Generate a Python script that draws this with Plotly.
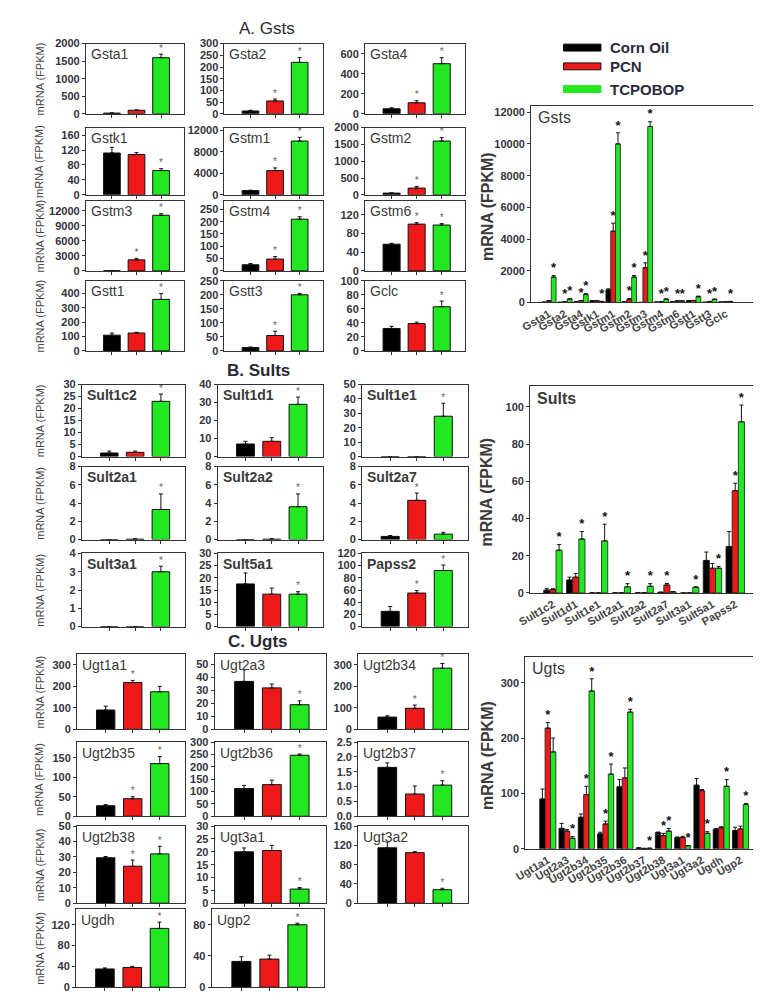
import numpy as np
import plotly.graph_objects as go

# ---------------- DATA ----------------
treatments = ["Corn Oil", "PCN", "TCPOBOP"]

gst_genes = ["Gsta1", "Gsta2", "Gsta4", "Gstk1", "Gstm1", "Gstm2",
             "Gstm3", "Gstm4", "Gstm6", "Gstt1", "Gstt3", "Gclc"]
gst_corn = [20, 12, 50, 112, 800, 50, 5, 25, 57, 110, 12, 32]
gst_pcn = [100, 55, 110, 108, 4500, 200, 2200, 48, 100, 125, 55, 39]
gst_tcp = [1600, 220, 500, 65, 10000, 1600, 11100, 210, 98, 360, 200, 63]
gst_corn_err = [5, 3, 10, 15, 60, 10, 2, 5, 2, 15, 2, 3]
gst_pcn_err = [10, 8, 20, 5, 500, 50, 300, 10, 3, 5, 15, 2]
gst_tcp_err = [100, 20, 60, 5, 700, 100, 300, 10, 3, 40, 5, 8]
gst_pcn_sig = [0, 1, 1, 0, 1, 1, 1, 1, 1, 0, 1, 0]
gst_tcp_sig = [1, 1, 1, 1, 1, 1, 1, 1, 1, 1, 1, 1]

sult_genes = ["Sult1c2", "Sult1d1", "Sult1e1", "Sult2a1", "Sult2a2",
              "Sult2a7", "Sult3a1", "Sult5a1", "Papss2"]
sult_corn = [1.5, 7.0, 0, 0, 0, 0.35, 0, 17.5, 25]
sult_pcn = [1.8, 8.5, 0, 0.05, 0.05, 4.3, 0, 13.3, 55]
sult_tcp = [23, 29, 28, 3.3, 3.6, 0.6, 3.0, 13.3, 92]
sult_corn_err = [0.8, 1.5, 0, 0, 0, 0.1, 0, 4.5, 8]
sult_pcn_err = [0.5, 2, 0, 0.05, 0.05, 0.8, 0, 2.5, 4]
sult_tcp_err = [3, 4, 9, 1.7, 1.4, 0.2, 0.3, 1, 9]
sult_pcn_sig = [0, 0, 0, 0, 0, 1, 0, 0, 1]
sult_tcp_sig = [1, 1, 1, 1, 1, 0, 1, 1, 1]

ugt_genes = ["Ugt1a1", "Ugt2a3", "Ugt2b34", "Ugt2b35", "Ugt2b36", "Ugt2b37",
             "Ugt2b38", "Ugt3a1", "Ugt3a2", "Ugdh", "Ugp2"]
ugt_corn = [90, 37, 57, 27, 112, 1.65, 29.5, 20, 115, 35, 33]
ugt_pcn = [218, 32, 98, 45, 128, 0.75, 24, 20.5, 105, 38, 36]
ugt_tcp = [175, 19, 285, 135, 247, 1.05, 32, 5.5, 28, 113, 80]
ugt_corn_err = [18, 9, 6, 3, 13, 0.15, 0.8, 1.5, 12, 2, 6]
ugt_pcn_err = [10, 3, 15, 5, 18, 0.27, 4, 2, 2, 2, 5]
ugt_tcp_err = [25, 3, 22, 18, 5, 0.15, 5, 0.6, 3, 12, 2]
ugt_pcn_sig = [1, 0, 1, 1, 0, 0, 1, 0, 0, 0, 0]
ugt_tcp_sig = [0, 1, 1, 1, 1, 1, 1, 1, 1, 1, 1]

# axis scales for small panels (ymax, dtick)
gst_scale = [(2000, 500), (300, 50), (700, 200), (180, 40), (12500, 4000), (2000, 500),
             (14000, 3000), (285, 50), (150, 40), (490, 100), (250, 50), (100, 20)]
sult_scale = [(30, 5), (40, 10), (50, 10), (8, 2), (8, 2), (8, 2), (4, 1), (30, 5), (120, 20)]
ugt_scale = [(350, 100), (58, 10), (350, 100), (190, 50), (300, 50), (2.5, 0.5),
             (50, 10), (30, 5), (160, 40), (150, 40), (100, 40)]

# ---------------- STYLE / LAYOUT ----------------
W, H = 761, 1000
COLORS = ["#000000", "#ee1a1a", "#22e822"]
TXT = "#333340"
FONT = "Liberation Sans, Arial, sans-serif"

fig = go.Figure()
lay = {}
annotations = []
shapes = []
counter = [0]


def fx(p):
    return p / W


def fy(p):
    return 1 - p / H


def axes_ids():
    counter[0] += 1
    k = counter[0]
    s = "" if k == 1 else str(k)
    return k, "x" + s, "y" + s


def small_panel(name, vals, errs, sig, box, scale, bold_title=False):
    l, r, t, b = box
    ymax, dtick = scale
    k, xa, ya = axes_ids()
    x = np.arange(len(vals))
    fig.add_trace(go.Bar(
        x=x, y=vals, width=0.68, xaxis=xa, yaxis=ya, showlegend=False,
        marker=dict(color=COLORS, line=dict(color="#111111", width=1)),
        error_y=dict(type="data", array=errs, arrayminus=[0] * len(vals), symmetric=False,
                     color="#111111", thickness=1, width=2),
    ))
    sx = [x[i] for i in range(len(vals)) if sig[i]]
    sy = [vals[i] + errs[i] for i in range(len(vals)) if sig[i]]
    if sx:
        fig.add_trace(go.Scatter(x=sx, y=sy, mode="text", text=["*"] * len(sx),
                                 textposition="top center", xaxis=xa, yaxis=ya,
                                 textfont=dict(size=10, color="#666666", family=FONT),
                                 showlegend=False, hoverinfo="skip", cliponaxis=False))
    lay["xaxis" + xa[1:]] = dict(domain=[fx(l), fx(r)], range=[-1.06, 2.94], anchor=ya,
                                 showline=True, mirror=True, linecolor="#333333", linewidth=1,
                                 tickmode="array", tickvals=list(x), ticks="outside", ticklen=3,
                                 tickcolor="#333333", showticklabels=False, showgrid=False,
                                 zeroline=False)
    ydict = dict(domain=[fy(b), fy(t)], range=[0, ymax], dtick=dtick, anchor=xa,
                 showline=True, mirror=True, linecolor="#333333", linewidth=1,
                 ticks="outside", ticklen=3, tickcolor="#333333",
                 tickformat=".1f" if dtick < 1 else "d",
                 tickfont=dict(size=11, family=FONT, color=TXT, weight="bold"),
                 showgrid=False, zeroline=False)
    lay["yaxis" + ya[1:]] = ydict
    annotations.append(dict(xref=xa + " domain", yref=ya + " domain", x=0.03, y=0.99,
                            xanchor="left", yanchor="top", showarrow=False,
                            text=("<b>%s</b>" % name) if bold_title else name,
                            font=dict(size=14, family=FONT, color="#3a3a3a")))


def big_panel(title, genes, series, errs, sigs, box, xr, ymax, dtick, w, bold_title=False):
    l, r, t, b = box
    k, xa, ya = axes_ids()
    idx = np.arange(len(genes))
    for j in range(3):
        off = -1.5 * w + j * w
        fig.add_trace(go.Bar(
            x=idx, y=series[j], width=w, offset=off, xaxis=xa, yaxis=ya, showlegend=False,
            marker=dict(color=COLORS[j], line=dict(color="#1a1a1a", width=0.8)),
            error_y=dict(type="data", array=errs[j], arrayminus=[0] * len(genes),
                         symmetric=False, color="#111111", thickness=1, width=2),
        ))
        sx = [idx[i] + off + w / 2 for i in range(len(genes)) if sigs[j][i]]
        sy = [series[j][i] + errs[j][i] for i in range(len(genes)) if sigs[j][i]]
        if sx:
            fig.add_trace(go.Scatter(x=sx, y=sy, mode="text", text=["*"] * len(sx),
                                     textposition="top center", xaxis=xa, yaxis=ya,
                                     textfont=dict(size=13, color="#111111", family=FONT,
                                                   weight="bold"),
                                     showlegend=False, hoverinfo="skip", cliponaxis=False))
    lay["xaxis" + xa[1:]] = dict(domain=[fx(l), fx(r)], range=xr, anchor=ya,
                                 showline=True, mirror=True, linecolor="#333333", linewidth=1,
                                 tickmode="array", tickvals=list(idx), ticktext=genes,
                                 tickangle=-30, ticks="", showgrid=False, zeroline=False,
                                 tickfont=dict(size=11, family=FONT, color="#444444",
                                               weight="bold"))
    lay["yaxis" + ya[1:]] = dict(domain=[fy(b), fy(t)], range=[0, ymax], dtick=dtick,
                                 anchor=xa, showline=True, mirror=True, linecolor="#333333",
                                 linewidth=1, ticks="outside", ticklen=3, tickcolor="#333333",
                                 tickformat="d",
                                 tickfont=dict(size=11, family=FONT, color=TXT, weight="bold"),
                                 showgrid=False, zeroline=False)
    annotations.append(dict(xref=xa + " domain", yref=ya + " domain", x=0.02, y=0.995,
                            xanchor="left", yanchor="top", showarrow=False,
                            text=("<b>%s</b>" % title) if bold_title else title,
                            font=dict(size=16, family=FONT, color="#3a3a3a")))
    annotations.append(dict(xref="paper", yref="paper", x=fx(474), y=fy((t + b) / 2 + 2),
                            xanchor="center", yanchor="middle", showarrow=False,
                            textangle=-90, text="<b>mRNA (FPKM)</b>",
                            font=dict(size=16, family=FONT, color="#3a3a3a")))


def section(genes, corn, pcn, tcp, ce, pe, te, ps, ts, scales, cols, rows, bold_title):
    for i, g in enumerate(genes):
        rr, cc = divmod(i, 3)
        l, r = cols[rr][cc] if isinstance(cols[0][0], tuple) else cols[cc]
        t, b = rows[rr]
        small_panel(g, [corn[i], pcn[i], tcp[i]], [ce[i], pe[i], te[i]],
                    [0, ps[i], ts[i]], (l, r, t, b), scales[i], bold_title)
    for (t, b) in rows:
        annotations.append(dict(xref="paper", yref="paper", x=fx(19), y=fy((t + b) / 2),
                                xanchor="center", yanchor="middle", showarrow=False,
                                textangle=-90, text="mRNA (FPKM)",
                                font=dict(size=11, family=FONT, color="#444444")))


# Gsts
section(gst_genes, gst_corn, gst_pcn, gst_tcp, gst_corn_err, gst_pcn_err, gst_tcp_err,
        gst_pcn_sig, gst_tcp_sig, gst_scale,
        [(66, 166), (207, 307), (350, 452)],
        [(30, 101), (115, 183), (189, 260), (270, 341)], False)
# Sults
section(sult_genes, sult_corn, sult_pcn, sult_tcp, sult_corn_err, sult_pcn_err, sult_tcp_err,
        sult_pcn_sig, sult_tcp_sig, sult_scale,
        [(62, 167), (200, 307), (347, 455)],
        [(375, 448), (458, 532), (546, 620)], True)
# Ugts
section(ugt_genes, ugt_corn, ugt_pcn, ugt_tcp, ugt_corn_err, ugt_pcn_err, ugt_tcp_err,
        ugt_pcn_sig, ugt_tcp_sig, ugt_scale,
        [[(57, 167), (197, 310), (343, 455)], [(57, 167), (197, 310), (343, 455)],
         [(57, 167), (197, 310), (343, 455)], [(56, 167), (194, 308), (343, 455)]],
        [(648, 724), (737, 812), (822, 900), (906, 985)], False)

# Summary panels
big_panel("Gsts", gst_genes, [gst_corn, gst_pcn, gst_tcp],
          [gst_corn_err, gst_pcn_err, gst_tcp_err], [[0] * 12, gst_pcn_sig, gst_tcp_sig],
          (519, 753, 93, 292), [-1.1, 13.2], 12400, 2000, 0.3)
big_panel("Sults", sult_genes, [sult_corn, sult_pcn, sult_tcp],
          [sult_corn_err, sult_pcn_err, sult_tcp_err], [[0] * 9, sult_pcn_sig, sult_tcp_sig],
          (518, 751, 377, 586), [-1.0, 9.05], 111, 20, 0.27, True)
big_panel("Ugts", ugt_genes, [ugt_corn, ugt_pcn, ugt_tcp],
          [ugt_corn_err, ugt_pcn_err, ugt_tcp_err], [[0] * 11, ugt_pcn_sig, ugt_tcp_sig],
          (513, 753, 651, 845), [-1.17, 11.07], 346, 100, 0.28)

# Section titles
for txt, xc, yc, bold in [("A. Gsts", 250, 15, False), ("B. Sults", 242, 361, True),
                          ("C. Ugts", 241, 635, True)]:
    annotations.append(dict(xref="paper", yref="paper", x=fx(xc), y=fy(yc), xanchor="center",
                            yanchor="middle", showarrow=False,
                            text=("<b>%s</b>" % txt) if bold else txt,
                            font=dict(size=17, family=FONT, color="#2a2a35")))

# Legend (drawn manually)
for j, (name, yc) in enumerate(zip(treatments, [34, 53, 76])):
    shapes.append(dict(type="rect", xref="paper", yref="paper", x0=fx(552), x1=fx(590),
                       y0=fy(yc + 3.5), y1=fy(yc - 3.5), fillcolor=COLORS[j],
                       line=dict(color="#111111" if j == 1 else COLORS[j], width=1)))
    annotations.append(dict(xref="paper", yref="paper", x=fx(597), y=fy(yc), xanchor="left",
                            yanchor="middle", showarrow=False, text="<b>%s</b>" % name,
                            font=dict(size=15, family=FONT, color="#2a2a40")))

lay.update(dict(width=W, height=H, margin=dict(l=0, r=0, t=0, b=0),
                paper_bgcolor="white", plot_bgcolor="white", barmode="overlay",
                showlegend=False, annotations=annotations, shapes=shapes,
                font=dict(family=FONT, color=TXT)))
fig.update_layout(**lay)
fig.write_html("out.html")
